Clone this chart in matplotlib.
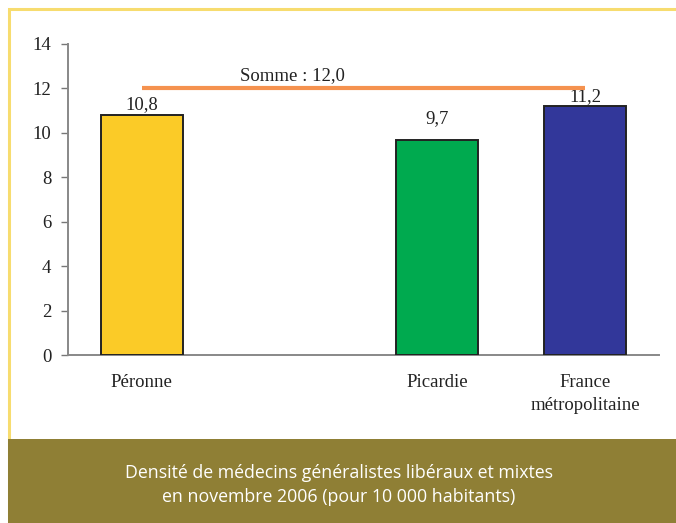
import matplotlib.pyplot as plt
from matplotlib.patches import Rectangle

categories = ["Péronne", "", "Picardie", "France\nmétropolitaine"]
values = [10.8, None, 9.7, 11.2]
bar_colors = ["#FBCB27", None, "#00AA4F", "#32379A"]
value_labels = ["10,8", "", "9,7", "11,2"]
label_offsets = [0.1, 0, 0.55, 0.05]
somme_value = 12.0
somme_label = "Somme : 12,0"
caption = "Densité de médecins généralistes libéraux et mixtes\nen novembre 2006 (pour 10 000 habitants)"

W, H = 676, 523
fig = plt.figure(figsize=(W / 100, H / 100), dpi=100)
fig.patch.set_facecolor("white")

# yellow frame and olive caption band
fig.patches.append(Rectangle((9 / W, 0), 1.0, 1 - 9 / H, transform=fig.transFigure,
                             facecolor="white", edgecolor="#F7DC6F", linewidth=2.2, zorder=-2))
fig.patches.append(Rectangle((8 / W, 0), 1.0, 84 / H, transform=fig.transFigure,
                             facecolor="#8F7F35", edgecolor="none", zorder=-1))
fig.text(0.5 * (1 + 8 / W) - 0.005, 38 / H, caption, ha="center", va="center", color="white",
         fontsize=12.8, family="Open Sans", linespacing=1.5, zorder=2)

ax = fig.add_axes([68 / W, 1 - 355 / H, (659 - 68) / W, (355 - 44) / H])
ax.set_zorder(5)
ax.patch.set_alpha(0)
serif = "Liberation Serif"
fs = 13.5

x = list(range(len(categories)))
for i, v in enumerate(values):
    if v is None:
        continue
    ax.bar(i, v, width=0.555, color=bar_colors[i], edgecolor="#222222", linewidth=1.4, zorder=3)
    ax.text(i, v + label_offsets[i], value_labels[i], ha="center", va="bottom",
            fontsize=fs, family=serif, color="#222222")

ax.plot([0, 3], [somme_value, somme_value], color="#F5924F", linewidth=3, zorder=4,
        solid_capstyle="butt")
ax.text(1.02, somme_value + 0.2, somme_label, ha="center", va="bottom",
        fontsize=fs, family=serif, color="#222222")

ax.set_xlim(-0.5, 3.5)
ax.set_ylim(0, 14)
ax.set_yticks(range(0, 15, 2))
ax.set_xticks(x)
ax.set_xticklabels(categories, family=serif, fontsize=fs, color="#222222", linespacing=1.45)
for lbl in ax.get_yticklabels():
    lbl.set_family(serif)
    lbl.set_fontsize(fs)
    lbl.set_color("#222222")
ax.tick_params(axis="x", length=0, pad=14)
ax.tick_params(axis="y", length=5, width=1, color="#777777", pad=7)
for side in ["top", "right"]:
    ax.spines[side].set_visible(False)
ax.spines["left"].set_color("#888888")
ax.spines["left"].set_linewidth(1.4)
ax.spines["bottom"].set_color("#888888")
ax.spines["bottom"].set_linewidth(1.4)

fig.savefig("out.png", dpi=100)
